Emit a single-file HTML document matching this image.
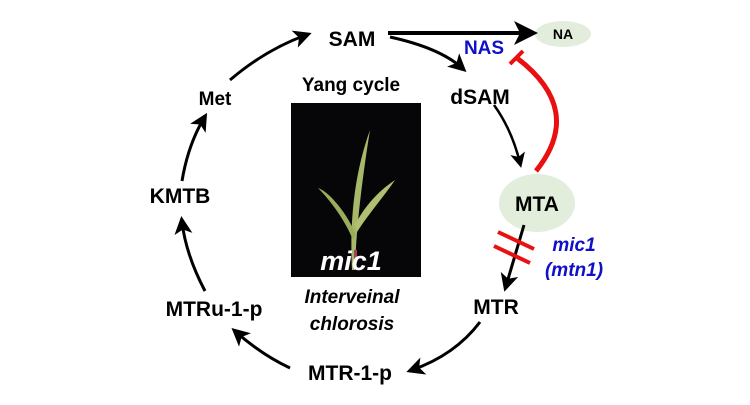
<!DOCTYPE html>
<html><head><style>
body{margin:0;background:#fff}
svg text{font-family:"Liberation Sans",Arial,sans-serif;font-weight:bold}
</style></head><body>
<svg width="750" height="400" viewBox="0 0 750 400" xmlns="http://www.w3.org/2000/svg">
<defs>
<marker id="ah" markerWidth="6" markerHeight="6" refX="4" refY="3" orient="auto" markerUnits="strokeWidth"><path d="M0,0 L6,3 L0,6 L1.5,3 z" fill="#000"/></marker>
</defs>
<rect width="750" height="400" fill="#fff"/>
<rect x="291" y="103" width="130" height="174" fill="#060608"/>
<path d="M352,270 C350,230 352,180 370,130 C362,180 356,230 355,270 z" fill="#a8b86a"/>
<path d="M353,240 C345,220 330,200 318,188 C330,192 348,215 356,235 z" fill="#9aad5c"/>
<path d="M355,225 C365,205 380,190 395,180 C385,195 370,212 357,232 z" fill="#b0bf70"/>
<path d="M354,250 L357,250 L357,262 L354,262 z" fill="#a04060"/>
<text x="351" y="270" font-size="27" font-style="italic" fill="#fff" text-anchor="middle">mic1</text>
<text x="351" y="91" font-size="19" text-anchor="middle">Yang cycle</text>
<text x="352" y="303" font-size="19" font-style="italic" text-anchor="middle">Interveinal</text>
<text x="352" y="330" font-size="19" font-style="italic" text-anchor="middle">chlorosis</text>
<text x="352" y="46" font-size="21" text-anchor="middle">SAM</text>
<ellipse cx="563" cy="34" rx="28" ry="13" fill="#e2eedb"/>
<text x="563" y="39" font-size="14" text-anchor="middle">NA</text>
<text x="484" y="54" font-size="19" fill="#1010c8" text-anchor="middle">NAS</text>
<text x="480" y="104" font-size="21" text-anchor="middle">dSAM</text>
<ellipse cx="537" cy="203" rx="38" ry="29" fill="#e2eedb"/>
<text x="537" y="211" font-size="21" text-anchor="middle">MTA</text>
<text x="574" y="251" font-size="19" font-style="italic" fill="#1010c8" text-anchor="middle">mic1</text>
<text x="574" y="276" font-size="19" font-style="italic" fill="#1010c8" text-anchor="middle">(mtn1)</text>
<text x="496" y="314" font-size="21" text-anchor="middle">MTR</text>
<text x="350" y="380" font-size="21" text-anchor="middle">MTR-1-p</text>
<text x="214" y="316" font-size="21" text-anchor="middle">MTRu-1-p</text>
<text x="180" y="203" font-size="21" text-anchor="middle">KMTB</text>
<text x="215" y="105" font-size="19" text-anchor="middle">Met</text>
<line x1="388" y1="33" x2="530" y2="33" stroke="#000" stroke-width="4" marker-end="url(#ah)"/>
<path d="M390,37 Q440,48 462,68" fill="none" stroke="#000" stroke-width="3" marker-end="url(#ah)"/>
<path d="M494,105 Q512,130 520,163" fill="none" stroke="#000" stroke-width="2.5" marker-end="url(#ah)"/>
<path d="M536,171 Q585,110 517,58" fill="none" stroke="#e81010" stroke-width="5"/>
<line x1="510" y1="64" x2="523" y2="51" stroke="#e81010" stroke-width="4"/>
<path d="M524,225 L506,286" fill="none" stroke="#000" stroke-width="3" marker-end="url(#ah)"/>
<line x1="498" y1="232" x2="534" y2="249" stroke="#e81010" stroke-width="4"/>
<line x1="494" y1="246" x2="530" y2="263" stroke="#e81010" stroke-width="4"/>
<path d="M480,322 Q455,355 412,370" fill="none" stroke="#000" stroke-width="3" marker-end="url(#ah)"/>
<path d="M290,368 Q262,355 236,332" fill="none" stroke="#000" stroke-width="3" marker-end="url(#ah)"/>
<path d="M205,291 Q186,255 182,222" fill="none" stroke="#000" stroke-width="3" marker-end="url(#ah)"/>
<path d="M182,181 Q188,145 204,118" fill="none" stroke="#000" stroke-width="3" marker-end="url(#ah)"/>
<path d="M230,80 Q265,50 306,35" fill="none" stroke="#000" stroke-width="3" marker-end="url(#ah)"/>
</svg>
</body></html>
